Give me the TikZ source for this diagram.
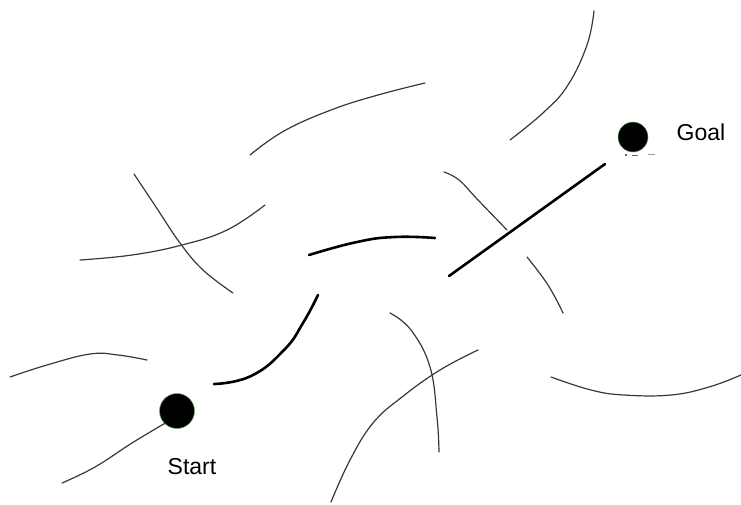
\documentclass[tikz,border=0pt]{standalone}
\usepackage{fontspec}
\setmainfont{Liberation Sans}
\begin{document}
\begin{tikzpicture}[x=1pt,y=-1pt,
  wall/.style={draw=black!78,line width=1.2pt,line cap=round},
  pathseg/.style={draw=black,line width=2.6pt,line cap=round},
  dot/.style={circle,fill=black,draw=green!45!black!60,line width=0.5pt,inner sep=0pt},
  lbl/.style={font=\fontsize{23}{26}\selectfont,inner sep=0pt}]
\useasboundingbox (0,0) rectangle (741,504);
% obstacles (thin gray curves)
\draw[wall] plot[smooth,tension=0.7] coordinates {(594,11) (587,45) (568,85) (544,112) (510,140)};
\draw[wall] plot[smooth,tension=0.7] coordinates {(250,155) (284,131) (331,110) (378,95) (425,83)};
\draw[wall] plot[smooth,tension=0.7] coordinates {(134,174) (156,207) (180,243) (203,270) (233,293)};
\draw[wall] plot[smooth,tension=0.7] coordinates {(80,260) (132,255) (182,245) (227,230) (265,205)};
\draw[wall] plot[smooth,tension=0.7] coordinates {(444,172) (459,180) (478,200) (507,230)};
\draw[wall] plot[smooth,tension=0.7] coordinates {(527,257) (548,285) (563,313)};
\draw[wall] plot[smooth,tension=0.7] coordinates {(10,377) (47,365) (90,354) (118,355) (147,360)};
\draw[wall] plot[smooth,tension=0.7] coordinates {(390,313) (411,330) (430,367) (437,417) (439,452)};
\draw[wall] plot[smooth,tension=0.7] coordinates {(478,350) (440,370) (402,397) (373,423) (350,460) (331,502)};
\draw[wall] plot[smooth,tension=0.7] coordinates {(551,377) (591,390) (624,395) (671,395) (709,387) (741,375)};
% start and goal
\node[dot,minimum size=35pt] (start) at (177,411) {};
\node[dot,minimum size=30pt] (goal) at (633,137) {};
\node[lbl] (startlbl) at (192,467) {Start};
\node[lbl] (goallbl) at (701,132) {Goal};
\draw[wall] plot[smooth,tension=0.7] coordinates {(62,483) (95,467) (132,443) (start.south west)};
% path segments (bold)
\draw[pathseg] plot[smooth,tension=0.8] coordinates {(214,384) (251,376) (284,350) (303,323) (318,295)};
\draw[pathseg] plot[smooth,tension=0.8] coordinates {(309,255) (357,242) (395,237) (435,238)};
\draw[pathseg] (449,276) -- (605,164);
% small marks under the goal
\fill[black!80] (626,155) circle (1.2pt);
\draw[black!60,line width=0.8pt] (632,155) -- (638,155);
\draw[black!40,line width=0.8pt] (648,154) -- (655,154);
\end{tikzpicture}
\end{document}
